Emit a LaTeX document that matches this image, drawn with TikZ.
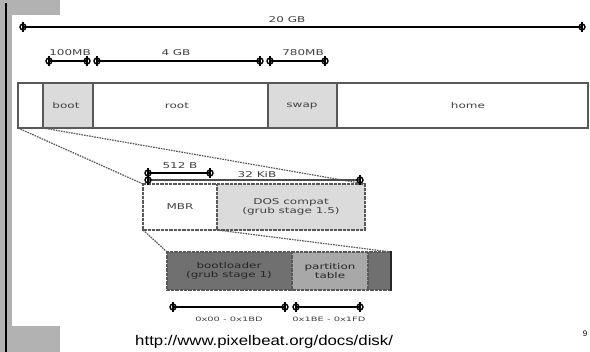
\documentclass[tikz,border=0pt]{standalone}
\usepackage{fontspec}
\setmainfont{DejaVu Sans}
\newfontfamily\urlfont{Liberation Sans}
\begin{document}
\begin{tikzpicture}[x=1pt,y=-1pt,
  lbl/.style={font=\fontsize{8pt}{9.5pt}\selectfont, text=black!75, inner sep=0pt, xscale=1.5},
  sml/.style={font=\fontsize{6pt}{7pt}\selectfont, text=black!75, inner sep=0pt, xscale=1.65},
  scaleline/.style={line width=1.1pt, black},
  zoomline/.style={line width=1.2pt, black!65, dash pattern=on 1.6pt off 1pt},
  barbox/.style={draw=black!65, line width=1.4pt},
  dotbox/.style={draw=black!65, line width=1.6pt, dash pattern=on 0.8pt off 0.5pt},
  mk/.pic={\draw[line width=1.4pt] (0,0) circle (3); \draw[line width=1.6pt] (0,-4.6) -- (0,4.6);}
]
\useasboundingbox (0,0) rectangle (590,352);
\fill[white] (0,0) rectangle (590,352);
% slide decoration
\fill[black!30] (0,0) rectangle (12,352);
\fill[black!30] (0,0) rectangle (60,15);
\fill[black!30] (0,326) rectangle (60,352);
\draw[line width=1.6pt, black] (6,3) -- (6,352);

% 20 GB scale
\coordinate (a1) at (23,27); \coordinate (a2) at (582,27);
\draw[scaleline] (a1) -- (a2);
\pic at (a1) {mk}; \pic at (a2) {mk};
\node[lbl] (l20) at (287,20) {20 GB};

% partition scale
\coordinate (b1) at (49,61); \coordinate (b2) at (87,61);
\coordinate (b3) at (97,61); \coordinate (b4) at (260,61);
\coordinate (b5) at (270,61); \coordinate (b6) at (325,61);
\draw[scaleline] (b1) -- (b2); \draw[scaleline] (b3) -- (b4); \draw[scaleline] (b5) -- (b6);
\foreach \c in {b1,b2,b3,b4,b5,b6} \pic at (\c) {mk};
\node[lbl] (l100) at (70,53) {100MB};
\node[lbl] (l4) at (176,53) {4 GB};
\node[lbl] (l780) at (303,53) {780MB};

% disk bar
\fill[black!14] (43,83) rectangle (93,128);
\fill[black!14] (268,83) rectangle (337,128);
\draw[barbox] (18,83) rectangle (588,128);
\draw[barbox] (43,83) -- (43,128);
\draw[barbox] (93,83) -- (93,128);
\draw[barbox] (268,83) -- (268,128);
\draw[barbox] (337,83) -- (337,128);
\node[lbl] (boot) at (66,106) {boot};
\node[lbl] (root) at (177,106) {root};
\node[lbl] (swap) at (302,106) {swap};
\node[lbl] (home) at (468,106) {home};
\coordinate (barL) at (18,128); \coordinate (bootL) at (43,128);

% MBR box
\coordinate (m1) at (143,184); \coordinate (m2) at (365,184);
\coordinate (m3) at (143,230); \coordinate (mdiv) at (217,230);
\draw[zoomline] (barL) -- (m1);
\draw[zoomline] (bootL) -- (m2);
\fill[black!14] (217,184) rectangle (365,230);
\draw[dotbox] (143,184) rectangle (365,230);
\draw[dotbox] (217,184) -- (217,230);
\node[lbl] (mbr) at (180,207) {MBR};
\node[lbl, align=center] (dos) at (291,207) {DOS compat\\(grub stage 1.5)};

\coordinate (c1) at (148,173); \coordinate (c2) at (210,173);
\coordinate (c3) at (148,180); \coordinate (c4) at (360,180);
\draw[scaleline] (c1) -- (c2);
\draw[line width=1.5pt, black!70] (c3) -- (c4);
\foreach \c in {c1,c2,c3,c4} \pic at (\c) {mk};
\node[lbl] (l512) at (180,166) {512 B};
\node[lbl] (l32) at (257,175) {32 KiB};

% bootloader box
\coordinate (d1) at (167,252); \coordinate (d2) at (391,252);
\draw[zoomline] (m3) -- (d1);
\draw[zoomline] (mdiv) -- (d2);
\fill[black!56] (167,252) rectangle (292,290);
\fill[black!34] (292,252) rectangle (368,290);
\fill[black!56] (368,252) rectangle (391,290);
\draw[dotbox] (167,252) -- (167,290) -- (391,290);
\draw[dotbox] (167,252) -- (391,252);
\draw[dotbox] (292,252) -- (292,290);
\draw[dotbox] (368,252) -- (368,290);
\draw[line width=1.6pt, black!85] (391,251.3) -- (391,290.7);
\node[lbl, text=black!85, align=center] (bl) at (229,271) {bootloader\\(grub stage 1)};
\node[lbl, text=black!85, align=center] (pt) at (330,271) {partition\\table};

\coordinate (e1) at (173,307); \coordinate (e2) at (285,307);
\coordinate (e3) at (296,307); \coordinate (e4) at (360,307);
\draw[scaleline] (e1) -- (e2); \draw[scaleline] (e3) -- (e4);
\foreach \c in {e1,e2,e3,e4} \pic at (\c) {mk};
\node[sml] (o1) at (229,319) {0x00 - 0x1BD};
\node[sml] (o2) at (329,319) {0x1BE - 0x1FD};

% footer
\node[inner sep=0pt, anchor=base west, xscale=1.2] (url) at (135,346) {\urlfont\fontsize{14pt}{16pt}\selectfont http://www.pixelbeat.org/docs/disk/};
\node[inner sep=0pt, anchor=base] (pg) at (585,337) {\urlfont\fontsize{8pt}{9pt}\selectfont 9};
\end{tikzpicture}
\end{document}
